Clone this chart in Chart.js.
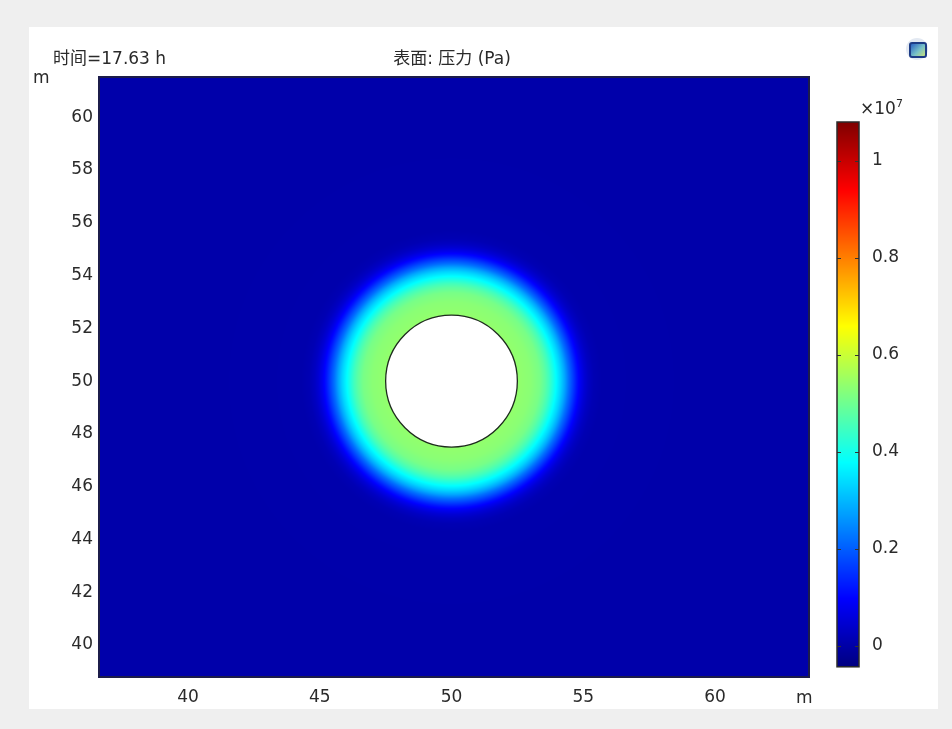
<!DOCTYPE html>
<html>
<head>
<meta charset="utf-8">
<script src="https://cdn.jsdelivr.net/npm/chart.js@4"></script>
<style>
    body { margin: 0; background: #efefef; width: 952px; height: 729px; overflow: hidden; }
    #panel { position: absolute; left: 29px; top: 27px; width: 909px; height: 682px; background: #fff; }
    canvas { position: absolute; }
    .lbl { position: absolute; font-family: "DejaVu Sans", "Noto Sans CJK SC", sans-serif; font-size: 17px; line-height: 20px; color: #2a2a2a; white-space: nowrap; }
    .icon { position: absolute; left: 877px; top: 11px; width: 22px; height: 22px; border-radius: 11px; background: #e3e9f2; }
    .icon div { position: absolute; left: 3px; top: 4px; width: 14px; height: 12px; border: 2px solid #1d3c86; border-radius: 3px; background: linear-gradient(135deg, #2a62c2, #76c0c8 55%, #c8e27c); }
</style>
</head>
<body>
<div id="panel">
    <canvas id="main" width="909" height="682" style="left:0;top:0"></canvas>
    <canvas id="cbar" width="118" height="610" style="left:791px;top:53px"></canvas>
    <div class="lbl" style="left:24px;top:21px">时间=17.63 h</div>
    <div class="lbl" style="left:323px;top:21px;width:200px;text-align:center">表面: 压力 (Pa)</div>
    <div class="lbl" style="left:4px;top:40px">m</div>
    <div class="lbl" style="left:767px;top:660px">m</div>
    <div class="lbl" style="left:831px;top:67px">×10<sup style="font-size:11px;vertical-align:7px">7</sup></div>
    <div class="icon"><div></div></div>
</div>
<script>
// axis limits and ticks (m)
const xRange = [36.62, 63.57];
const yRange = [38.79, 61.52];
const xTicks = [40, 45, 50, 55, 60];
const yTicks = [40, 42, 44, 46, 48, 50, 52, 54, 56, 58, 60];

// colour bar (x10^7 Pa)
const cbRange = [-0.043, 1.08];
const cbTicks = [0, 0.2, 0.4, 0.6, 0.8, 1];

// borehole
const holeCenter = [50, 50];
const holeRadius = 2.5;

// pressure read along the radius from the hole centre
const profileRadius   = [2.5,  3.0,  3.35, 3.55, 3.7,  3.85, 4.0,  4.15, 4.3,  4.45, 4.6,  4.75, 4.9,  5.05, 5.2,  5.4,   5.7,   9];
const profilePressure = [0.54, 0.53, 0.51, 0.48, 0.45, 0.41, 0.37, 0.33, 0.28, 0.22, 0.17, 0.12, 0.08, 0.05, 0.03, 0.014, 0.006, 0.004];

function jet(t) {
    t = Math.max(0, Math.min(1, t));
    const c = v => Math.round(255 * Math.max(0, Math.min(1, v)));
    return [c(1.5 - Math.abs(4 * t - 3)), c(1.5 - Math.abs(4 * t - 2)), c(1.5 - Math.abs(4 * t - 1))];
}

function pressureAt(r) {
    if (r <= profileRadius[0]) return profilePressure[0];
    for (let k = 1; k < profileRadius.length; k++) {
        if (r <= profileRadius[k]) {
            const f = (r - profileRadius[k - 1]) / (profileRadius[k] - profileRadius[k - 1]);
            return profilePressure[k - 1] + f * (profilePressure[k] - profilePressure[k - 1]);
        }
    }
    return profilePressure[profilePressure.length - 1];
}

const fieldPlugin = {
    id: 'field',
    beforeDatasetsDraw(chart) {
        const { ctx, chartArea: a, scales: { x, y } } = chart;
        const w = Math.round(a.right - a.left), h = Math.round(a.bottom - a.top);
        const off = document.createElement('canvas');
        off.width = w; off.height = h;
        const octx = off.getContext('2d');
        const img = octx.createImageData(w, h);
        for (let j = 0; j < h; j++) {
            const vy = y.getValueForPixel(a.top + j + 0.5);
            for (let i = 0; i < w; i++) {
                const vx = x.getValueForPixel(a.left + i + 0.5);
                const r = Math.hypot(vx - holeCenter[0], vy - holeCenter[1]);
                let col = [255, 255, 255];
                if (r >= holeRadius) {
                    col = jet((pressureAt(r) - cbRange[0]) / (cbRange[1] - cbRange[0]));
                }
                const p = (j * w + i) * 4;
                img.data[p] = col[0]; img.data[p + 1] = col[1]; img.data[p + 2] = col[2]; img.data[p + 3] = 255;
            }
        }
        octx.putImageData(img, 0, 0);
        ctx.drawImage(off, a.left, a.top);

        // hole
        const cx = x.getPixelForValue(holeCenter[0]);
        const cy = y.getPixelForValue(holeCenter[1]);
        const rx = x.getPixelForValue(holeCenter[0] + holeRadius) - cx;
        const ry = cy - y.getPixelForValue(holeCenter[1] + holeRadius);
        ctx.save();
        ctx.beginPath();
        ctx.ellipse(cx, cy, rx, ry, 0, 0, Math.PI * 2);
        ctx.fillStyle = '#ffffff';
        ctx.fill();
        ctx.lineWidth = 1.3;
        ctx.strokeStyle = '#1d2b1d';
        ctx.stroke();
        // frame
        ctx.lineWidth = 2;
        ctx.strokeStyle = '#1c1c4a';
        ctx.strokeRect(a.left, a.top, a.right - a.left, a.bottom - a.top);
        ctx.restore();
    }
};

const tickFont = { family: 'DejaVu Sans', size: 17 };

new Chart(document.getElementById('main'), {
    type: 'scatter',
    data: { datasets: [{ data: [] }] },
    options: {
        responsive: false,
        animation: false,
        layout: { padding: { left: 0, top: 50, right: 129, bottom: 0 } },
        plugins: { legend: { display: false }, tooltip: { enabled: false } },
        scales: {
            x: {
                type: 'linear',
                min: xRange[0],
                max: xRange[1],
                afterBuildTicks: s => { s.ticks = xTicks.map(v => ({ value: v })); },
                afterFit: s => { s.height = 32; },
                grid: { display: false, drawTicks: false },
                border: { display: false },
                ticks: { padding: 10, color: '#2a2a2a', font: tickFont, maxRotation: 0, callback: v => String(v) }
            },
            y: {
                type: 'linear',
                min: yRange[0],
                max: yRange[1],
                afterBuildTicks: s => { s.ticks = yTicks.map(v => ({ value: v })); },
                afterFit: s => { s.width = 70; },
                grid: { display: false, drawTicks: false },
                border: { display: false },
                ticks: { padding: 6, color: '#2a2a2a', font: tickFont, callback: v => String(v) }
            }
        }
    },
    plugins: [fieldPlugin]
});

const colorbarPlugin = {
    id: 'colorbar',
    beforeDatasetsDraw(chart) {
        const { ctx, chartArea: a, scales: { y } } = chart;
        ctx.save();
        for (let py = Math.floor(a.top); py < a.bottom; py++) {
            const v = y.getValueForPixel(py + 0.5);
            const c = jet((v - cbRange[0]) / (cbRange[1] - cbRange[0]));
            ctx.fillStyle = 'rgb(' + c.join(',') + ')';
            ctx.fillRect(a.left, py, a.right - a.left, 1);
        }
        ctx.strokeStyle = '#333';
        ctx.lineWidth = 1;
        cbTicks.forEach(v => {
            const py = Math.round(y.getPixelForValue(v)) + 0.5;
            ctx.beginPath();
            ctx.moveTo(a.left, py); ctx.lineTo(a.left + 4, py);
            ctx.moveTo(a.right - 4, py); ctx.lineTo(a.right, py);
            ctx.stroke();
        });
        ctx.lineWidth = 1.5;
        ctx.strokeStyle = '#2b2b2b';
        ctx.strokeRect(a.left, a.top, a.right - a.left, a.bottom - a.top);
        ctx.restore();
    }
};

new Chart(document.getElementById('cbar'), {
    type: 'scatter',
    data: { datasets: [{ data: [] }] },
    options: {
        responsive: false,
        animation: false,
        layout: { padding: { left: 17, top: 42, right: 0, bottom: 22 } },
        plugins: { legend: { display: false }, tooltip: { enabled: false } },
        scales: {
            x: { display: false },
            y: {
                type: 'linear',
                position: 'right',
                min: cbRange[0],
                max: cbRange[1],
                afterBuildTicks: s => { s.ticks = cbTicks.map(v => ({ value: v })); },
                afterFit: s => { s.width = 79; },
                grid: { display: false, drawTicks: false },
                border: { display: false },
                ticks: { padding: 13, color: '#2a2a2a', font: tickFont, callback: v => String(v) }
            }
        }
    },
    plugins: [colorbarPlugin]
});
</script>
</body>
</html>
